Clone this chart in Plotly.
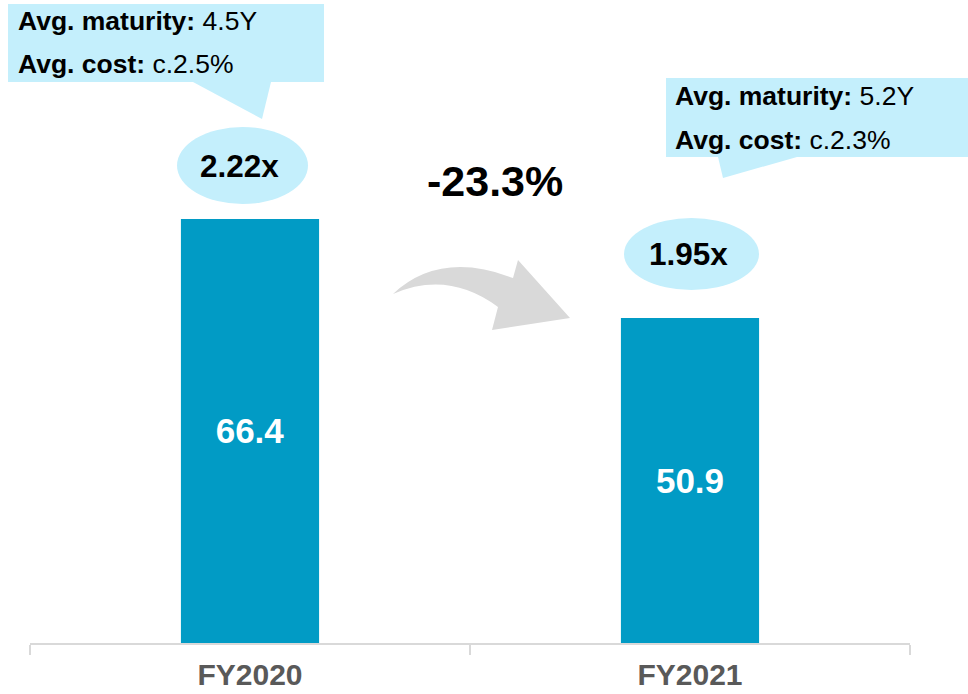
import plotly.graph_objects as go

# ---- data ----
categories = ["FY2020", "FY2021"]
net_debt = [66.4, 50.9]
leverage = ["2.22x", "1.95x"]
avg_maturity = ["4.5Y", "5.2Y"]
avg_cost = ["c.2.5%", "c.2.3%"]
change_label = "-23.3%"

W, H = 968, 694
ML, MR, MT, MB = 30, 58, 0, 51
PW, PH = W - ML - MR, H - MT - MB

def px(x):
    return (x - ML) / PW

def py(y):
    return (PH + MT - y) / PH

FONT = "Arial, Liberation Sans, sans-serif"
BAR = "#019BC5"
CALL = "#C4EFFC"

fig = go.Figure()
fig.add_trace(go.Bar(
    x=categories, y=net_debt, width=0.314,
    marker=dict(color=BAR, line=dict(width=0)),
    text=[f"{v:.1f}" for v in net_debt],
    textposition="inside", insidetextanchor="middle", textangle=0,
    textfont=dict(family=FONT, size=35, color="white", weight="bold"),
    hoverinfo="skip",
))

shapes = []
annotations = []

callouts = [
    dict(box=(8, 324, 4, 82), ptr=(193, 271, 262, 119), tx=16, ly=(21, 64)),
    dict(box=(666, 968, 78, 157), ptr=(718, 797, 723, 178), tx=673, ly=(96, 140)),
]
ellipses = [(177, 308, 127, 204), (624, 759, 218, 290)]

for i, c in enumerate(callouts):
    x0, x1, y0, y1 = c["box"]
    shapes.append(dict(type="rect", xref="paper", yref="paper",
                       x0=px(x0), x1=px(x1), y0=py(y1), y1=py(y0),
                       fillcolor=CALL, line=dict(width=0), layer="above"))
    xa, xb, tx_, ty_ = c["ptr"]
    shapes.append(dict(type="path", xref="paper", yref="paper",
                       path=f"M {px(xa)},{py(y1)} L {px(xb)},{py(y1)} L {px(tx_)},{py(ty_)} Z",
                       fillcolor=CALL, line=dict(width=0), layer="above"))
    annotations.append(dict(xref="paper", yref="paper", x=px(c["tx"]), y=py(c["ly"][0]),
                            xanchor="left", yanchor="middle", showarrow=False,
                            text=f"<b>Avg. maturity:</b> {avg_maturity[i]}",
                            font=dict(family=FONT, size=26.5, color="black")))
    annotations.append(dict(xref="paper", yref="paper", x=px(c["tx"]), y=py(c["ly"][1]),
                            xanchor="left", yanchor="middle", showarrow=False,
                            text=f"<b>Avg. cost:</b> {avg_cost[i]}",
                            font=dict(family=FONT, size=26.5, color="black")))
    ex0, ex1, ey0, ey1 = ellipses[i]
    shapes.append(dict(type="circle", xref="paper", yref="paper",
                       x0=px(ex0), x1=px(ex1), y0=py(ey1), y1=py(ey0),
                       fillcolor=CALL, line=dict(width=0), layer="above"))
    annotations.append(dict(xref="paper", yref="paper", x=px((ex0 + ex1) / 2 - 3),
                            y=py((ey0 + ey1) / 2), xanchor="center", yanchor="middle",
                            showarrow=False, text=f"<b>{leverage[i]}</b>",
                            font=dict(family=FONT, size=31.5, color="black")))

# curved grey arrow
pts = dict(t0=(393, 294), c1=(440, 250), h0=(513, 278), h1=(518, 260), tip=(570, 318),
           h2=(492, 330), h3=(498, 307), c2=(448, 270))
P = {k: (px(v[0]), py(v[1])) for k, v in pts.items()}
path = (f"M {P['t0'][0]},{P['t0'][1]} Q {P['c1'][0]},{P['c1'][1]} {P['h0'][0]},{P['h0'][1]} "
        f"L {P['h1'][0]},{P['h1'][1]} L {P['tip'][0]},{P['tip'][1]} L {P['h2'][0]},{P['h2'][1]} "
        f"L {P['h3'][0]},{P['h3'][1]} Q {P['c2'][0]},{P['c2'][1]} {P['t0'][0]},{P['t0'][1]} Z")
shapes.append(dict(type="path", xref="paper", yref="paper", path=path,
                   fillcolor="#D9D9D9", line=dict(width=0), layer="above"))

annotations.append(dict(xref="paper", yref="paper", x=px(495), y=py(181),
                        xanchor="center", yanchor="middle", showarrow=False,
                        text=f"<b>{change_label}</b>",
                        font=dict(family=FONT, size=43, color="black")))

fig.update_layout(
    width=W, height=H,
    margin=dict(l=ML, r=MR, t=MT, b=MB, pad=0, autoexpand=False),
    paper_bgcolor="white", plot_bgcolor="white",
    showlegend=False,
    shapes=shapes, annotations=annotations,
    xaxis=dict(type="category", range=[-0.5, 1.5], showgrid=False, zeroline=False,
               automargin=False,
               showline=True, linecolor="#D9D9D9", linewidth=2,
               ticks="outside", tickson="boundaries", ticklen=10, tickwidth=2,
               tickcolor="#D9D9D9", ticklabelstandoff=4,
               tickfont=dict(family=FONT, size=30, color="#595959", weight="bold")),
    yaxis=dict(range=[0, 100.67], visible=False, showgrid=False, zeroline=False,
               automargin=False),
)

fig.write_html("out.html", config={"displayModeBar": False},
               post_script="document.body.style.margin='0';")
